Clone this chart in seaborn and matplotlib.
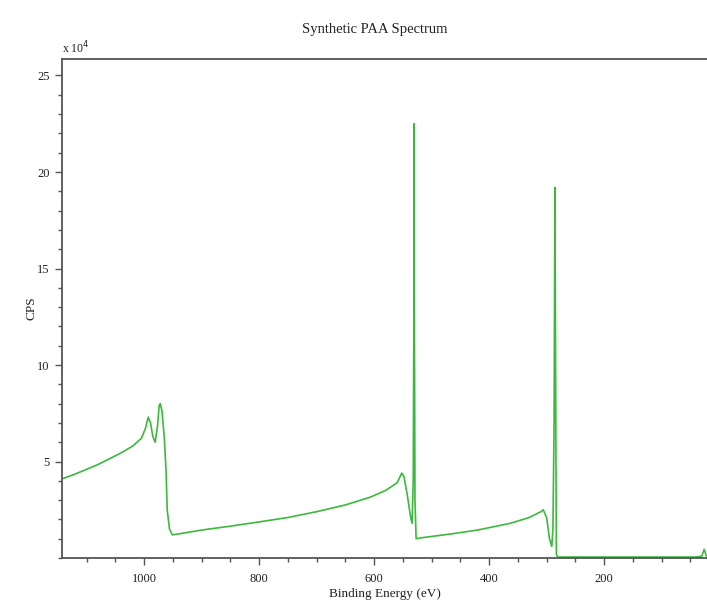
import matplotlib
matplotlib.use('Agg')
import matplotlib.pyplot as plt
from matplotlib.ticker import MultipleLocator
import pandas as pd
import seaborn as sns

# Synthetic PAA XPS survey (counts in units of 1e4 CPS)
binding_energy = [1143, 1120, 1100, 1080, 1060, 1040, 1020, 1005, 998, 993,
                  989, 985, 981, 977, 974, 972, 969, 965, 962, 960,
                  956, 951, 940, 900, 850, 800, 750, 700, 650, 607,
                  580, 560, 552, 548, 542, 537, 534, 532, 531, 530.5,
                  530, 529.5, 529, 527, 520, 468, 420, 363, 330, 310,
                  306, 300, 295, 291, 289, 287, 285.5, 285, 284, 283,
                  281, 277, 200, 100, 40, 30, 26, 22]
cps_1e4 = [4.1, 4.35, 4.6, 4.85, 5.15, 5.45, 5.8, 6.2, 6.7, 7.3,
           7.0, 6.3, 6.0, 6.8, 7.9, 8.0, 7.6, 6.2, 4.5, 2.5,
           1.5, 1.2, 1.25, 1.45, 1.65, 1.87, 2.1, 2.4, 2.75, 3.15,
           3.5, 3.9, 4.4, 4.2, 3.2, 2.2, 1.8, 4.0, 12.0, 22.5,
           12.0, 8.3, 3.0, 1.0, 1.04, 1.24, 1.45, 1.8, 2.1, 2.4,
           2.5, 2.1, 1.0, 0.6, 1.5, 7.0, 19.2, 14.8, 7.0, 0.2,
           0.05, 0.05, 0.05, 0.05, 0.05, 0.1, 0.45, 0.1]

x_ticks = [1000, 800, 600, 400, 200]
y_ticks = [5, 10, 15, 20, 25]

sns.set_theme(style="white")
plt.rcParams['font.family'] = ['Liberation Serif', 'DejaVu Serif']

df = pd.DataFrame({'Binding Energy (eV)': binding_energy, 'CPS': cps_1e4})

fig = plt.figure(figsize=(7.07, 6.03), dpi=100)
ax = fig.add_axes([0.0877, 0.0746, 0.9123, 0.8274])

sns.lineplot(data=df, x='Binding Energy (eV)', y='CPS', sort=False,
             estimator=None, color='#3cb93c', linewidth=1.2, ax=ax)

ax.set_xlim(1143, 21)
ax.set_ylim(0, 25.85)
ax.set_xticks(x_ticks)
ax.set_xticklabels([str(t) for t in x_ticks])
ax.set_yticks(y_ticks)
ax.set_yticklabels([str(t) for t in y_ticks])
ax.xaxis.set_minor_locator(MultipleLocator(50))
ax.yaxis.set_minor_locator(MultipleLocator(1))

ax.tick_params(which='major', direction='out', length=5, width=1, color='#555555',
               labelsize=9, labelcolor='#222222', bottom=True, left=True)
ax.tick_params(axis='x', which='major', pad=6)
ax.tick_params(axis='y', which='major', pad=4)
ax.tick_params(which='minor', direction='out', length=3, width=1, color='#555555',
               bottom=True, left=True)

for side in ['left', 'bottom', 'top']:
    ax.spines[side].set_color('#555555')
    ax.spines[side].set_linewidth(1.3)
ax.spines['right'].set_visible(False)

ax.set_xlabel('Binding Energy (eV)', fontsize=9.5, color='#222222', labelpad=2)
ax.set_ylabel('CPS', fontsize=9.5, color='#222222', labelpad=0)
ax.set_title('Synthetic PAA Spectrum', fontsize=10.5, color='#222222', pad=19,
             x=0.485)
ax.text(0.0, 1.005, r'x 10$^4$', transform=ax.transAxes, fontsize=8.5,
        color='#222222', ha='left', va='bottom')

fig.savefig('out.png', dpi=100)
plt.close(fig)
